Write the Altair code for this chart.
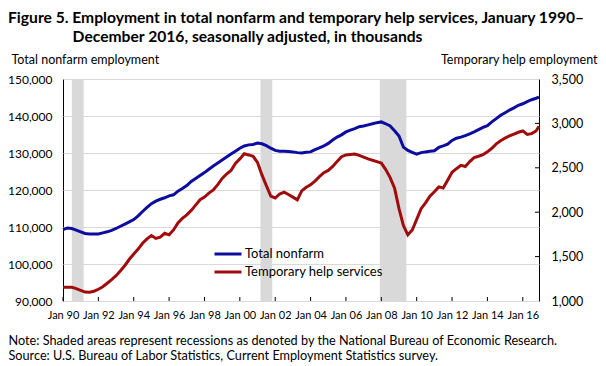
import altair as alt
import pandas as pd

# ---------------- data (quarterly readings: Jan, Apr, Jul, Oct; plus Dec 2016) -------------
years = list(range(1990, 2017))
quarter_months = [1, 4, 7, 10]

nonfarm = [
    109300, 109750, 109600, 109150,  # 1990
    108700, 108250, 108100, 108100,  # 1991
    108100, 108400, 108700, 109100,  # 1992
    109600, 110200, 110800, 111400,  # 1993
    112000, 113000, 114200, 115300,  # 1994
    116300, 117000, 117500, 117900,  # 1995
    118400, 118700, 119700, 120400,  # 1996
    121200, 122300, 123100, 123900,  # 1997
    124700, 125600, 126500, 127300,  # 1998
    128100, 128900, 129700, 130500,  # 1999
    131300, 131900, 132200, 132300,  # 2000
    132700, 132500, 132000, 131300,  # 2001
    130700, 130500, 130500, 130400,  # 2002
    130300, 130100, 130000, 130200,  # 2003
    130300, 130900, 131400, 131900,  # 2004
    132600, 133500, 134300, 134900,  # 2005
    135700, 136200, 136600, 137100,  # 2006
    137300, 137600, 137900, 138200,  # 2007
    138400, 137900, 137300, 136000,  # 2008
    134600, 131600, 130700, 130200,  # 2009
    129700, 130100, 130300, 130450,  # 2010
    130600, 131500, 131900, 132400,  # 2011
    133400, 134000, 134300, 134700,  # 2012
    135200, 135700, 136300, 136900,  # 2013
    137400, 138400, 139300, 140200,  # 2014
    140900, 141600, 142200, 142900,  # 2015
    143300, 143900, 144400, 144800,  # 2016
    145100,                          # Dec 2016
]

temp_help = [
    1154, 1155, 1154, 1140,  # 1990
    1120, 1100, 1098, 1110,  # 1991
    1132, 1160, 1200, 1240,  # 1992
    1285, 1340, 1400, 1470,  # 1993
    1530, 1585, 1650, 1700,  # 1994
    1737, 1705, 1720, 1763,  # 1995
    1745, 1800, 1880, 1930,  # 1996
    1970, 2020, 2080, 2140,  # 1997
    2170, 2215, 2250, 2310,  # 1998
    2380, 2430, 2470, 2550,  # 1999
    2600, 2658, 2645, 2630,  # 2000
    2560, 2420, 2300, 2180,  # 2001
    2160, 2205, 2225, 2200,  # 2002
    2170, 2139, 2240, 2280,  # 2003
    2310, 2350, 2400, 2445,  # 2004
    2470, 2515, 2570, 2625,  # 2005
    2645, 2650, 2655, 2640,  # 2006
    2620, 2600, 2585, 2570,  # 2007
    2553, 2480, 2390, 2270,  # 2008
    2040, 1850, 1745, 1800,  # 2009
    1920, 2040, 2105, 2180,  # 2010
    2230, 2285, 2272, 2360,  # 2011
    2450, 2490, 2527, 2515,  # 2012
    2570, 2615, 2630, 2647,  # 2013
    2680, 2720, 2770, 2805,  # 2014
    2835, 2860, 2880, 2900,  # 2015
    2915, 2875, 2885, 2915,  # 2016
    2966,                    # Dec 2016
]

# recessions (year, month)
recession_start = [(1990, 7), (2001, 3), (2007, 12)]
recession_end = [(1991, 3), (2001, 11), (2009, 6)]

left_ticks = [90000, 100000, 110000, 120000, 130000, 140000, 150000]
right_ticks = [1000, 1500, 2000, 2500, 3000, 3500]
tick_years = list(range(1990, 2017, 2))

title_line1 = "Figure 5. Employment in total nonfarm and temporary help services, January 1990\u2013"
title_line2 = "December 2016, seasonally adjusted, in thousands"
note_lines = [
    "Note: Shaded areas represent recessions as denoted by the National Bureau of Economic Research.",
    "Source: U.S. Bureau of Labor Statistics, Current Employment Statistics survey.",
]


def ym(y, m):
    """position of a month on a decimal-year axis"""
    return y + (m - 1) / 12.0


# ---------------- tables ----------------
t = [ym(y, m) for y in years for m in quarter_months] + [ym(2016, 12)]
nf_df = pd.DataFrame({"t": t, "value": nonfarm, "series": "Total nonfarm"})
th_df = pd.DataFrame({"t": t, "value": temp_help, "series": "Temporary help services"})
rec_df = pd.DataFrame({"t": [ym(*a) for a in recession_start],
                       "end": [ym(*b) for b in recession_end]})
xt_df = pd.DataFrame({"t": tick_years})
yt_df = pd.DataFrame({"v": right_ticks[1:-1]})

W, H = 476, 222
BLUE = "#0c0c9e"
RED = "#a00c0c"
FONT = "Lato"

xscale = alt.Scale(domain=[ym(1990, 1), ym(2016, 12)], nice=False, zero=False)
xaxis = alt.Axis(
    values=tick_years, tickCount=len(tick_years),
    labelExpr="'Jan ' + substring(toString(datum.value), 2, 4)",
    domain=False, ticks=False, grid=False,
    labelFontSize=11, labelPadding=8, labelOverlap=False, labelFlush=False,
    title=note_lines, titleAnchor="start", titleAlign="left", titleX=-55, titleY=43,
    titleBaseline="alphabetic", titleFontSize=12.7, titleFontWeight="normal",
    titleLineHeight=15,
)


def xenc():
    return alt.X("t:Q", scale=xscale, axis=xaxis)


recess = alt.Chart(rec_df).mark_rect(color="#d9d9d9").encode(
    x=xenc(),
    x2="end:Q",
)

left_axis = alt.Axis(
    values=left_ticks, format=",.0f", orient="left", domain=False, ticks=False,
    grid=True, gridColor="#d9d9d9", gridWidth=1,
    labelFontSize=12, labelPadding=11,
    title="Total nonfarm employment", titleAngle=0, titleAlign="left",
    titleX=-52, titleY=-16, titleBaseline="alphabetic",
    titleFontWeight="normal", titleFontSize=12.5,
)
right_axis = alt.Axis(
    values=right_ticks, format=",.0f", orient="right", domain=False, ticks=False,
    grid=False, labelFontSize=12.5, labelPadding=12,
    title="Temporary help employment", titleAngle=0, titleAlign="right",
    titleX=58, titleY=-16, titleBaseline="alphabetic",
    titleFontWeight="normal", titleFontSize=12.5,
)

blue = alt.Chart(nf_df).mark_line(strokeWidth=3).encode(
    x=xenc(),
    y=alt.Y("value:Q", scale=alt.Scale(domain=[90000, 150000]), axis=left_axis),
    color=alt.Color("series:N", scale=alt.Scale(domain=["Total nonfarm"], range=[BLUE]),
                    legend=alt.Legend(orient="none", legendX=150, legendY=160, title=None,
                                      symbolType="stroke", symbolSize=729, symbolStrokeWidth=3,
                                      labelFontSize=13, labelOffset=2, labelColor="black")),
)
red = alt.Chart(th_df).mark_line(strokeWidth=3).encode(
    x=xenc(),
    y=alt.Y("value:Q", scale=alt.Scale(domain=[1000, 3500]), axis=right_axis),
    color=alt.Color("series:N", scale=alt.Scale(domain=["Temporary help services"], range=[RED]),
                    legend=alt.Legend(orient="none", legendX=150, legendY=178, title=None,
                                      symbolType="stroke", symbolSize=729, symbolStrokeWidth=3,
                                      labelFontSize=13, labelOffset=2, labelColor="black")),
)

xticks = alt.Chart(xt_df).mark_rule(color="black", strokeWidth=1).encode(
    x=xenc(), y=alt.value(H - 4), y2=alt.value(H),
)
yticks = alt.Chart(yt_df).mark_rule(color="black", strokeWidth=1).encode(
    y=alt.Y("v:Q", scale=alt.Scale(domain=[1000, 3500]), axis=None),
    x=alt.value(W - 4), x2=alt.value(W),
)

chart = alt.layer(recess, blue, red, xticks, yticks).resolve_scale(
    y="independent", color="independent"
).properties(
    width=W, height=H,
    autosize=alt.AutoSizeParams(type="none"),
    padding={"left": 55, "top": 71, "right": 59, "bottom": 64},
    background="white",
    title=alt.TitleParams(
        text=[title_line1, "\u200b" + "\u00a0" * 17 + title_line2],
        anchor="start", frame="group", dx=-55, offset=7,
        fontSize=15.65, fontWeight="bold", lineHeight=19, color="black", font=FONT,
    ),
).configure(font=FONT).configure_view(
    stroke="black", strokeWidth=1
).configure_axis(
    labelColor="black", titleColor="black", labelFont=FONT, titleFont=FONT
).configure_legend(labelFont=FONT)

chart.save("out.html", embed_options={"renderer": "svg", "actions": False})
